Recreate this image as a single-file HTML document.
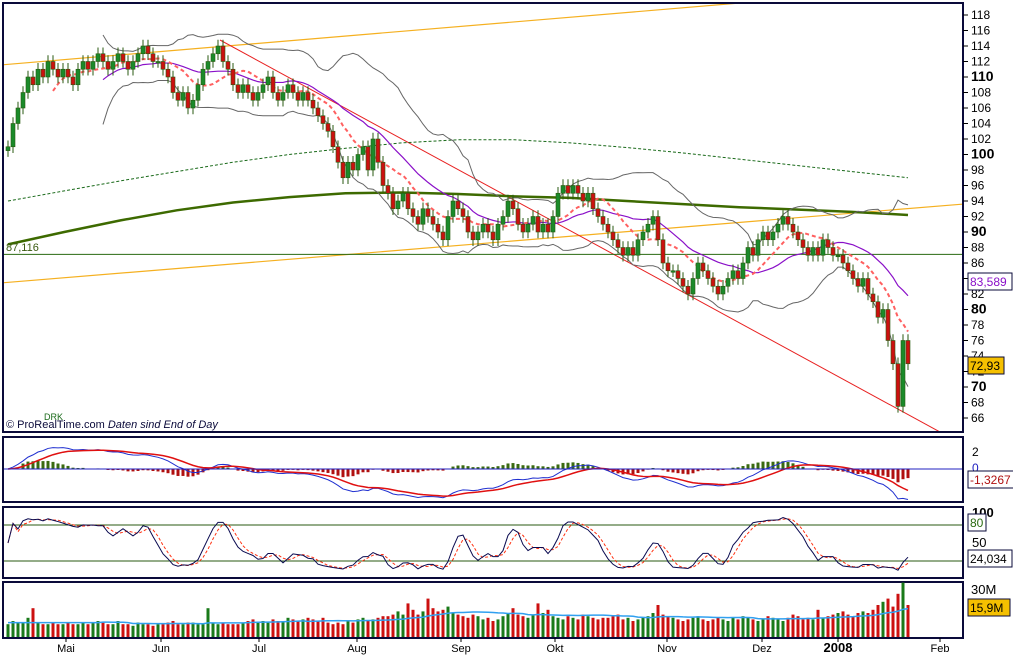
<!DOCTYPE html>
<html><head><meta charset="utf-8">
<style>
body{margin:0;background:#fff;font-family:"Liberation Sans",sans-serif;}
svg{display:block}
text{font-family:"Liberation Sans",sans-serif;}
</style></head>
<body>
<svg id="c" width="1013" height="656"></svg>
<script>
// ---- data ----
const closes=[101,104,106,108,110,109,111,110,112,111,
110,111,110,109,111,112,111,112,113,112,
111,112,113,112,111,112,113,114,113,112,
112,111,110,108,107,108,106,107,109,111,
112,113,114,112,111,109,108,109,108,107,
108,109,110,108,107,108,109,108,107,108,
107,106,105,104,103,101,99,97,99,98,
100,101,98,102,99,96,95,93,94,95,
93,92,91,93,92,91,90,89,92,94,
93,92,90,89,90,91,90,89,91,92,
94,93,91,90,91,92,90,91,90,92,
95,96,95,96,95,94,95,93,92,91,
90,89,88,87,88,87,89,90,91,92,
89,86,85,85,84,83,82,84,86,85,
84,83,82,83,84,85,84,86,88,87,
89,90,89,90,91,92,91,90,89,88,
87,88,87,89,88,87,87,86,85,84,
83,84,82,81,79,80,76,73,67.5,76,73];
const opens0=[100.5];
const volumes=[8,10,9,9,12,18,9,8,8,9,
8,8,9,8,8,9,8,9,10,9,
8,8,10,8,8,7,9,8,8,7,
8,8,9,10,8,8,9,9,8,8,
18,9,8,9,8,8,8,9,10,11,
9,10,9,11,10,10,12,11,10,11,
12,11,10,12,9,8,9,8,10,9,
11,12,10,11,12,13,13,14,16,14,
21,17,14,16,24,18,16,17,19,15,
14,13,12,14,13,11,12,10,11,13,
15,18,14,13,12,14,21,15,17,13,
12,11,13,12,11,14,13,12,11,12,
12,13,14,11,12,10,11,12,13,15,
20,14,13,12,11,10,11,12,13,11,
10,11,12,11,10,12,11,13,12,11,
10,11,13,12,11,10,12,14,13,11,
12,11,17,12,13,14,15,16,14,13,
15,16,15,17,20,22,24,19,27,34,20];
const ma200Pts=[88.4,90,91.5,92.8,93.8,94.5,95,95.1,94.9,94.6,94.4,94,93.6,93.2,92.9,92.6,92.2];
const ma100Pts=[94,95.3,96.6,97.8,99,100,100.8,101.5,101.9,101.9,101.5,100.9,100.2,99.4,98.6,97.8,97];
const priceTicks=[66,68,70,72,74,76,78,80,82,84,86,88,90,92,94,96,98,100,102,104,106,108,110,112,114,116,118];
const months=["Mai","Jun","Jul","Aug","Sep","Okt","Nov","Dez","2008","Feb"];
const monthIdx=[11.6,30.6,50.2,69.8,90.6,109.4,131.8,150.8,166,186.4];

// ---- helpers ----
const svg=document.getElementById('c');const NS='http://www.w3.org/2000/svg';
function mk(t,a,p){const e=document.createElementNS(NS,t);for(const k in a)e.setAttribute(k,a[k]);(p||svg).appendChild(e);return e;}
const X=i=>8+i*5;
const Y=v=>15+(118-v)*7.75;
const N=closes.length;
const opens=closes.map((c,i)=>i===0?opens0[0]:closes[i-1]);
function sma(a,n){return a.map((_,i)=>{if(i<n-1)return null;let s=0;for(let j=i-n+1;j<=i;j++)s+=a[j];return s/n;});}
function ema(a,n){const k=2/(n+1);let r=[];a.forEach((v,i)=>r.push(i?v*k+r[i-1]*(1-k):v));return r;}
function poly(pts,attrs,p){return mk('polyline',Object.assign({points:pts.map(q=>q.join(',')).join(' '),fill:'none'},attrs),p);}

// frames
const fr=[[3,3,963,432,'main-panel'],[3,437,963,502,'macd-panel'],[3,507,963,578,'stochastic-panel'],[3,582,963,638,'volume-panel']];
fr.forEach(f=>{const r=mk('rect',{x:f[0],y:f[1],width:f[2]-f[0],height:f[3]-f[1],fill:'#fff',stroke:'#0a0a3a','stroke-width':2});});

const cpath=mk('clipPath',{id:'cm'});
mk('rect',{x:4,y:4,width:958,height:427},cpath);
const g=mk('g',{'clip-path':'url(#cm)'});

// trendlines
let l=mk('line',{x1:0,y1:65,x2:740,y2:3,stroke:'#f5b020','stroke-width':1.2},g);
l=mk('line',{x1:0,y1:283,x2:1013,y2:200,stroke:'#f5b020','stroke-width':1.2},g);
l=mk('line',{x1:220,y1:40,x2:940,y2:432,stroke:'#e82020','stroke-width':1},g);
l=mk('line',{x1:4,y1:Y(87.116),x2:962,y2:Y(87.116),stroke:'#2a6a10','stroke-width':1},g);

// long MAs
const step=(N-1)/(ma200Pts.length-1);
let p=poly(ma200Pts.map((v,i)=>[X(i*step),Y(v)]),{stroke:'#3d6a00','stroke-width':2.5},g);
p=poly(ma100Pts.map((v,i)=>[X(i*step),Y(v)]),{stroke:'#1a6a1a','stroke-width':1,'stroke-dasharray':'3,2'},g);

// bollinger
const m20=sma(closes,20);
const up=[],dn=[];
closes.forEach((_,i)=>{if(i<19)return;let s=0;for(let j=i-19;j<=i;j++)s+=(closes[j]-m20[i])**2;const sd=Math.sqrt(s/20);up.push([X(i),Y(m20[i]+2*sd)]);dn.push([X(i),Y(m20[i]-2*sd)]);});
p=poly(up,{stroke:'#666','stroke-width':1},g);
p=poly(dn,{stroke:'#666','stroke-width':1},g);
const m20p=[];m20.forEach((v,i)=>{if(v!==null)m20p.push([X(i),Y(v)]);});
p=poly(m20p,{stroke:'#8a10c8','stroke-width':1.2},g);
const m10=sma(closes,10);const m10p=[];m10.forEach((v,i)=>{if(v!==null)m10p.push([X(i),Y(v)]);});
p=poly(m10p,{stroke:'#ff6060','stroke-width':2,'stroke-dasharray':'4,3'},g);

// candles
closes.forEach((c,i)=>{const o=opens[i];const hi=Math.max(o,c)+0.8,lo=Math.min(o,c)-0.8;const col=c>=o?'#1a8a2a':'#cc1010';
 const gg=mk('g',{},g);
 mk('line',{x1:X(i),x2:X(i),y1:Y(hi),y2:Y(lo),stroke:'#2a5a10','stroke-width':1},gg);
 const t=Y(Math.max(o,c)),b=Y(Math.min(o,c));
 mk('rect',{x:X(i)-2,y:t,width:4,height:Math.max(1.5,b-t),fill:col,stroke:'#2a5a10','stroke-width':0.6},gg);});

// price axis
priceTicks.forEach(v=>{const y=Y(v);mk('line',{x1:963,x2:968,y1:y,y2:y,stroke:'#000'});const big=v%10===0;
 const t=mk('text',{x:971,y:y+4,'font-size':big?14:12,'font-weight':big?'bold':'normal',fill:'#000'});t.textContent=v;});
function box(x,y,w,txt,col,bg,name){mk('rect',{x:x,y:y-9,width:w,height:17,fill:bg,stroke:'#0a0a3a'});const t=mk('text',{x:x+2,y:y+4,'font-size':12,fill:col});t.textContent=txt;}
box(968,282,44,'83,589','#8a10c8','#fff','ma20-value-label');
box(968,366,36,'72,93','#000','#f5c000','last-price-label');
let t=mk('text',{x:6,y:251,'font-size':11,fill:'#3a5a10'});t.textContent='87,116';
t=mk('text',{x:6,y:428,'font-size':11,fill:'#0a0a3a'});t.innerHTML='© ProRealTime.com  <tspan font-style="italic">Daten sind End of Day</tspan>';
t=mk('text',{x:44,y:420,'font-size':9,fill:'#1a6a1a'});t.textContent='DRK';

// MACD
const e12=ema(closes,12),e26=ema(closes,26);const macd=e12.map((v,i)=>v-e26[i]);const sig=ema(macd,9);
const MY=v=>469-v*8;
const gm=mk('g',{});
macd.forEach((v,i)=>{if(i<3)return;const h=(v-sig[i]);const r=mk('rect',{x:X(i)-1.5,y:Math.min(MY(h),469),width:3,height:Math.abs(h*8),fill:h>=0?'#3a6a10':'#b01010'},gm);});
mk('line',{x1:4,x2:962,y1:469,y2:469,stroke:'#2020c0'});
p=poly(macd.map((v,i)=>[X(i),Math.max(438,Math.min(501,MY(v)))]),{stroke:'#2030d0','stroke-width':1},gm);
p=poly(sig.map((v,i)=>[X(i),Math.max(438,Math.min(501,MY(v)))]),{stroke:'#e01010','stroke-width':1.5},gm);
[[2,452],[0,468]].forEach(a=>{const tt=mk('text',{x:972,y:a[1]+4,'font-size':12,fill:a[0]?'#000':'#2020c0'});tt.textContent=a[0];});
box(968,480,46,'-1,3267','#b01010','#fff','macd-signal-value');

// Stochastic
const SY=v=>573-v*0.6;
const K=closes.map((c,i)=>{const a=closes.slice(Math.max(0,i-13),i+1);const hi=Math.max(...a)+0.8,lo=Math.min(...a)-0.8;return (c-lo)/(hi-lo)*100;});
const Kf=sma(K,3).map((v,i)=>v===null?K[i]:v);const D=sma(Kf,3).map((v,i)=>v===null?Kf[i]:v);
mk('line',{x1:4,x2:962,y1:SY(80),y2:SY(80),stroke:'#2a5a10'});mk('line',{x1:4,x2:962,y1:SY(20),y2:SY(20),stroke:'#2a5a10'});
p=poly(D.map((v,i)=>[X(i),SY(v)]),{stroke:'#ff3010','stroke-width':1,'stroke-dasharray':'3,2'});
p=poly(Kf.map((v,i)=>[X(i),SY(v)]),{stroke:'#0a0a50','stroke-width':1});
[[100,513],[50,543]].forEach(a=>{const tt=mk('text',{x:972,y:a[1]+4,'font-size':13,'font-weight':a[0]==100?'bold':'normal',fill:'#000'});tt.textContent=a[0];});
box(968,523,18,'80','#2a6a10','#fff','overbought-label');
box(968,559,44,'24,034','#000','#fff','stochastic-value');

// Volume
const VY=v=>637-v*1.6;
volumes.forEach((v,i)=>{const r=mk('rect',{x:X(i)-1.5,y:VY(v),width:3,height:637-VY(v),fill:closes[i]>=opens[i]?'#1a7a1a':'#cc1010'});});
const vm=sma(volumes,20).map((v)=>v===null?9:v);
p=poly(vm.map((v,i)=>[X(i),VY(v)]),{stroke:'#30a0f0','stroke-width':1.5});
t=mk('text',{x:971,y:594,'font-size':13});t.textContent='30M';
box(968,608,42,'15,9M','#000','#f5c000','last-volume-label');

// months
monthIdx.forEach((m,i)=>{const x=X(m);mk('line',{x1:x,x2:x,y1:638,y2:642,stroke:'#000'});const tt=mk('text',{x:x,y:652,'font-size':months[i]=='2008'?13:11,'font-weight':months[i]=='2008'?'bold':'normal','text-anchor':'middle'});tt.textContent=months[i];});
</script>
</body></html>
